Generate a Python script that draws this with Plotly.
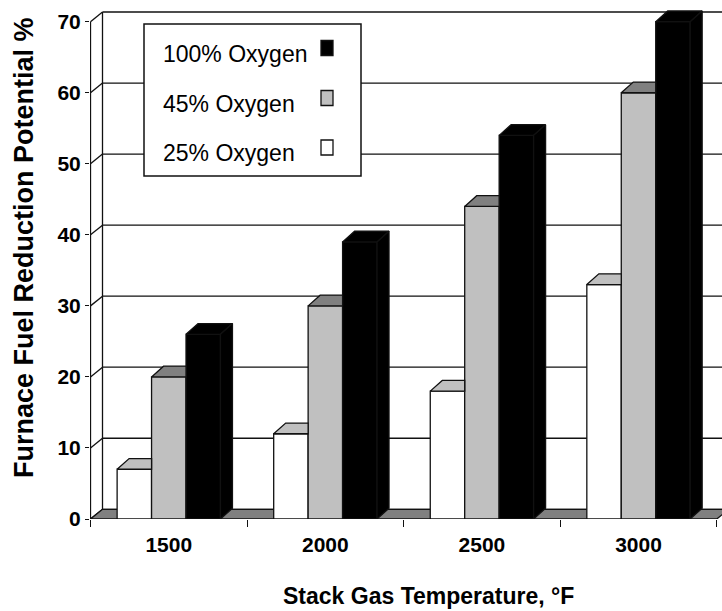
import plotly.graph_objects as go

# ---------------- data ----------------
categories = ["1500", "2000", "2500", "3000"]
series_names = ["25% Oxygen", "45% Oxygen", "100% Oxygen"]
oxy25 = [7, 12, 18, 33]
oxy45 = [20, 30, 44, 60]
oxy100 = [26, 39, 54, 70]
y_ticks = [0, 10, 20, 30, 40, 50, 60, 70]
x_title = "Stack Gas Temperature, °F"
y_title = "Furnace Fuel Reduction Potential %"

series_values = [oxy25, oxy45, oxy100]

# ---------------- style ----------------
front_colors = ["#FFFFFF", "#C0C0C0", "#000000"]
top_colors = ["#C0C0C0", "#808080", "#000000"]
FLOOR = "#808080"
LINE = "#111111"
LW = 1.3

W, H = 722, 611
ML, MR, MT, MB = 90, 0, 0, 92
PW, PH = W - ML - MR, H - MT - MB
PX_CAT = 156.57
PX_UNIT = 7.104
XMIN = -0.5 - 0.5 / PX_CAT
XMAX = XMIN + PW / PX_CAT
YMAX = PH / PX_UNIT

BAR_W = 0.22
DX = 12 / PX_CAT
DYB = 10.7 / PX_UNIT
DYW = 9.7 / PX_UNIT

BOLDF = "Liberation Sans Narrow, Arial Narrow, Liberation Sans, Arial, sans-serif"
REG = "Liberation Sans, Arial, sans-serif"


def pxx(px):
    return (px - ML) / PW


def pxy(py):
    return (MT + PH - py) / PH


fig = go.Figure()

# front faces
for k, vals in enumerate(series_values):
    fig.add_trace(go.Bar(
        x=list(range(len(categories))), y=vals, width=BAR_W,
        offset=-1.5 * BAR_W + k * BAR_W,
        marker=dict(color=front_colors[k], line=dict(color=LINE, width=LW)),
        name=series_names[k], showlegend=False, hoverinfo="skip",
    ))


def poly(pts, color):
    xs = [p[0] for p in pts] + [pts[0][0]]
    ys = [p[1] for p in pts] + [pts[0][1]]
    fig.add_trace(go.Scatter(
        x=xs, y=ys, mode="lines", fill="toself", fillcolor=color,
        line=dict(color=LINE, width=LW), hoverinfo="skip", showlegend=False,
    ))


# tops and sides
for k, vals in enumerate(series_values):
    for i, v in enumerate(vals):
        x0 = i - 1.5 * BAR_W + k * BAR_W
        x1 = x0 + BAR_W
        hidden = k + 1 < len(series_values) and series_values[k + 1][i] >= v + DYB
        if hidden:
            poly([(x0, v), (x1, v), (x1, v + DYB), (x0 + DX, v + DYB)], top_colors[k])
        else:
            poly([(x0, v), (x1, v), (x1 + DX, v + DYB), (x0 + DX, v + DYB)], top_colors[k])
            poly([(x1, 0), (x1 + DX, DYB), (x1 + DX, v + DYB), (x1, v)], top_colors[k])

shapes = []
ymax_tick = y_ticks[-1]
xf = -0.5
xb = -0.5 + DX
# back wall gridlines and side-wall diagonals
for t in y_ticks:
    shapes.append(dict(type="line", xref="x", yref="y", x0=xb, x1=XMAX + 1, y0=t + DYW, y1=t + DYW,
                       line=dict(color=LINE, width=LW), layer="below"))
    shapes.append(dict(type="line", xref="x", yref="y", x0=xf, x1=xb, y0=t, y1=t + DYW,
                       line=dict(color=LINE, width=LW), layer="below"))
shapes.append(dict(type="line", xref="x", yref="y", x0=xb, x1=xb, y0=DYW, y1=ymax_tick + DYW,
                   line=dict(color=LINE, width=LW), layer="below"))
shapes.append(dict(type="line", xref="x", yref="y", x0=xf, x1=xf, y0=0, y1=ymax_tick,
                   line=dict(color=LINE, width=LW), layer="below"))
# floor
xr = len(categories) - 0.5
shapes.append(dict(type="path", xref="x", yref="y",
                   path=f"M {xf},0 L {xr},0 L {xr + DX},{DYW} L {xb},{DYW} Z",
                   fillcolor=FLOOR, line=dict(color=LINE, width=LW), layer="below"))

# legend (manual: text left, swatch right)
shapes.append(dict(type="rect", xref="paper", yref="paper", x0=pxx(144), x1=pxx(361), y0=pxy(24), y1=pxy(176),
                   fillcolor="white", line=dict(color=LINE, width=1.5), layer="above"))
annotations = []
leg_rows = [(2, 53.5, 48), (1, 103.5, 98), (0, 152.5, 147.5)]
for k, ty, my in leg_rows:
    annotations.append(dict(xref="paper", yref="paper", x=pxx(161), y=pxy(ty), text=series_names[k],
                            showarrow=False, xanchor="left", yanchor="middle",
                            font=dict(family=REG, size=23, color="black")))
    shapes.append(dict(type="rect", xref="paper", yref="paper", x0=pxx(321), x1=pxx(333),
                       y0=pxy(my - 7.5), y1=pxy(my + 7.5), fillcolor=front_colors[k],
                       line=dict(color=LINE, width=1.3), layer="above"))

# axis titles
annotations.append(dict(xref="paper", yref="paper", x=pxx(24), y=pxy(248), text=y_title, textangle=-90,
                        showarrow=False, xanchor="center", yanchor="middle",
                        font=dict(family=BOLDF, size=27, color="black", weight="bold")))
annotations.append(dict(xref="paper", yref="paper", x=pxx(428), y=pxy(596), text=x_title,
                        showarrow=False, xanchor="center", yanchor="middle",
                        font=dict(family=BOLDF, size=23, color="black", weight="bold")))

fig.update_layout(
    width=W, height=H, margin=dict(l=ML, r=MR, t=MT, b=MB),
    paper_bgcolor="white", plot_bgcolor="white",
    barmode="overlay", showlegend=False,
    shapes=shapes, annotations=annotations,
    xaxis=dict(range=[XMIN, XMAX], tickvals=list(range(len(categories))), ticktext=categories,
               ticks="", showgrid=False, zeroline=False, showline=False, ticklabelstandoff=11,
               tickfont=dict(family=BOLDF, size=21, color="black", weight="bold"),
               minor=dict(tickvals=[i - 0.5 for i in range(len(categories) + 1)], ticks="outside",
                          ticklen=7, tickwidth=LW, tickcolor=LINE, showgrid=False)),
    yaxis=dict(range=[0, YMAX], tickvals=y_ticks, ticks="outside", ticklen=4, tickwidth=LW,
               tickcolor=LINE, showgrid=False, zeroline=False, showline=False,
               tickfont=dict(family=BOLDF, size=21, color="black", weight="bold")),
)

fig.write_html("out.html")
